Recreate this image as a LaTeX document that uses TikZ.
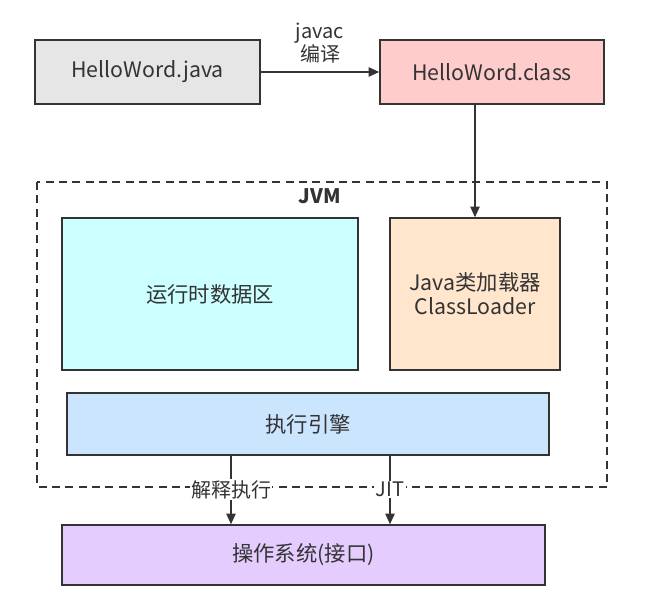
\documentclass[tikz,border=0pt]{standalone}
\usepackage{fontspec}
\setmainfont{Noto Sans CJK SC}
\usetikzlibrary{arrows.meta}

\definecolor{txtgray}{HTML}{333333}
\definecolor{javagray}{HTML}{E6E6E6}
\definecolor{classred}{HTML}{FFCCCC}
\definecolor{datacyan}{HTML}{CCFFFF}
\definecolor{loaderorange}{HTML}{FFE6CC}
\definecolor{engineblue}{HTML}{CCE5FF}
\definecolor{ospurple}{HTML}{E5CCFF}

\begin{document}
\begin{tikzpicture}[x=0.75pt, y=-0.75pt,
    every node/.style={font=\fontsize{16}{18}\selectfont, text=txtgray},
    box/.style={draw=txtgray, line width=1.1pt, inner sep=0pt, align=center},
    arr/.style={-{Triangle[length=8pt,width=7pt]}, draw=txtgray, line width=1.1pt},
    lbl/.style={font=\fontsize{15}{16}\selectfont, fill=white, inner sep=1pt, align=center}]
  \useasboundingbox (0,0) rectangle (653,615);

  %--- Quelle und Bytecode
  \node[box, fill=javagray, minimum width=168.75pt, minimum height=48pt] (java) at (147.5,72) {HelloWord.java};
  \node[box, fill=classred, minimum width=168pt, minimum height=48pt] (class) at (492,72) {HelloWord.class};

  %--- JVM (gestrichelter Rahmen)
  \draw[txtgray, line width=1.1pt, dash pattern=on 6pt off 4pt] (37,182) rectangle (607,487);
  \node[font=\fontsize{15}{17}\selectfont\bfseries] (jvm) at (320,196) {JVM};

  \node[box, fill=datacyan, minimum width=222pt, minimum height=114pt] (data) at (210,294) {运行时数据区};
  \node[box, fill=loaderorange, minimum width=127.5pt, minimum height=114pt] (loader) at (475,294) {Java类加载器\\ClassLoader};
  \node[box, fill=engineblue, minimum width=361.5pt, minimum height=46.5pt] (engine) at (308,424) {执行引擎};

  %--- Betriebssystem
  \node[box, fill=ospurple, minimum width=362.25pt, minimum height=45pt] (os) at (303.5,555) {操作系统(接口)};

  %--- Pfeile
  \draw[arr] (java) -- node[lbl, above=5pt, fill=none] {javac\\编译} (class);
  \draw[arr] (loader.north |- class.south) -- (loader.north);

  \coordinate (e1) at (231,455);
  \coordinate (e2) at (390,455);
  \draw[arr] (e1) -- node[lbl] {解释执行} (e1 |- os.north);
  \draw[arr] (e2) -- node[lbl] {JIT} (e2 |- os.north);
\end{tikzpicture}
\end{document}
